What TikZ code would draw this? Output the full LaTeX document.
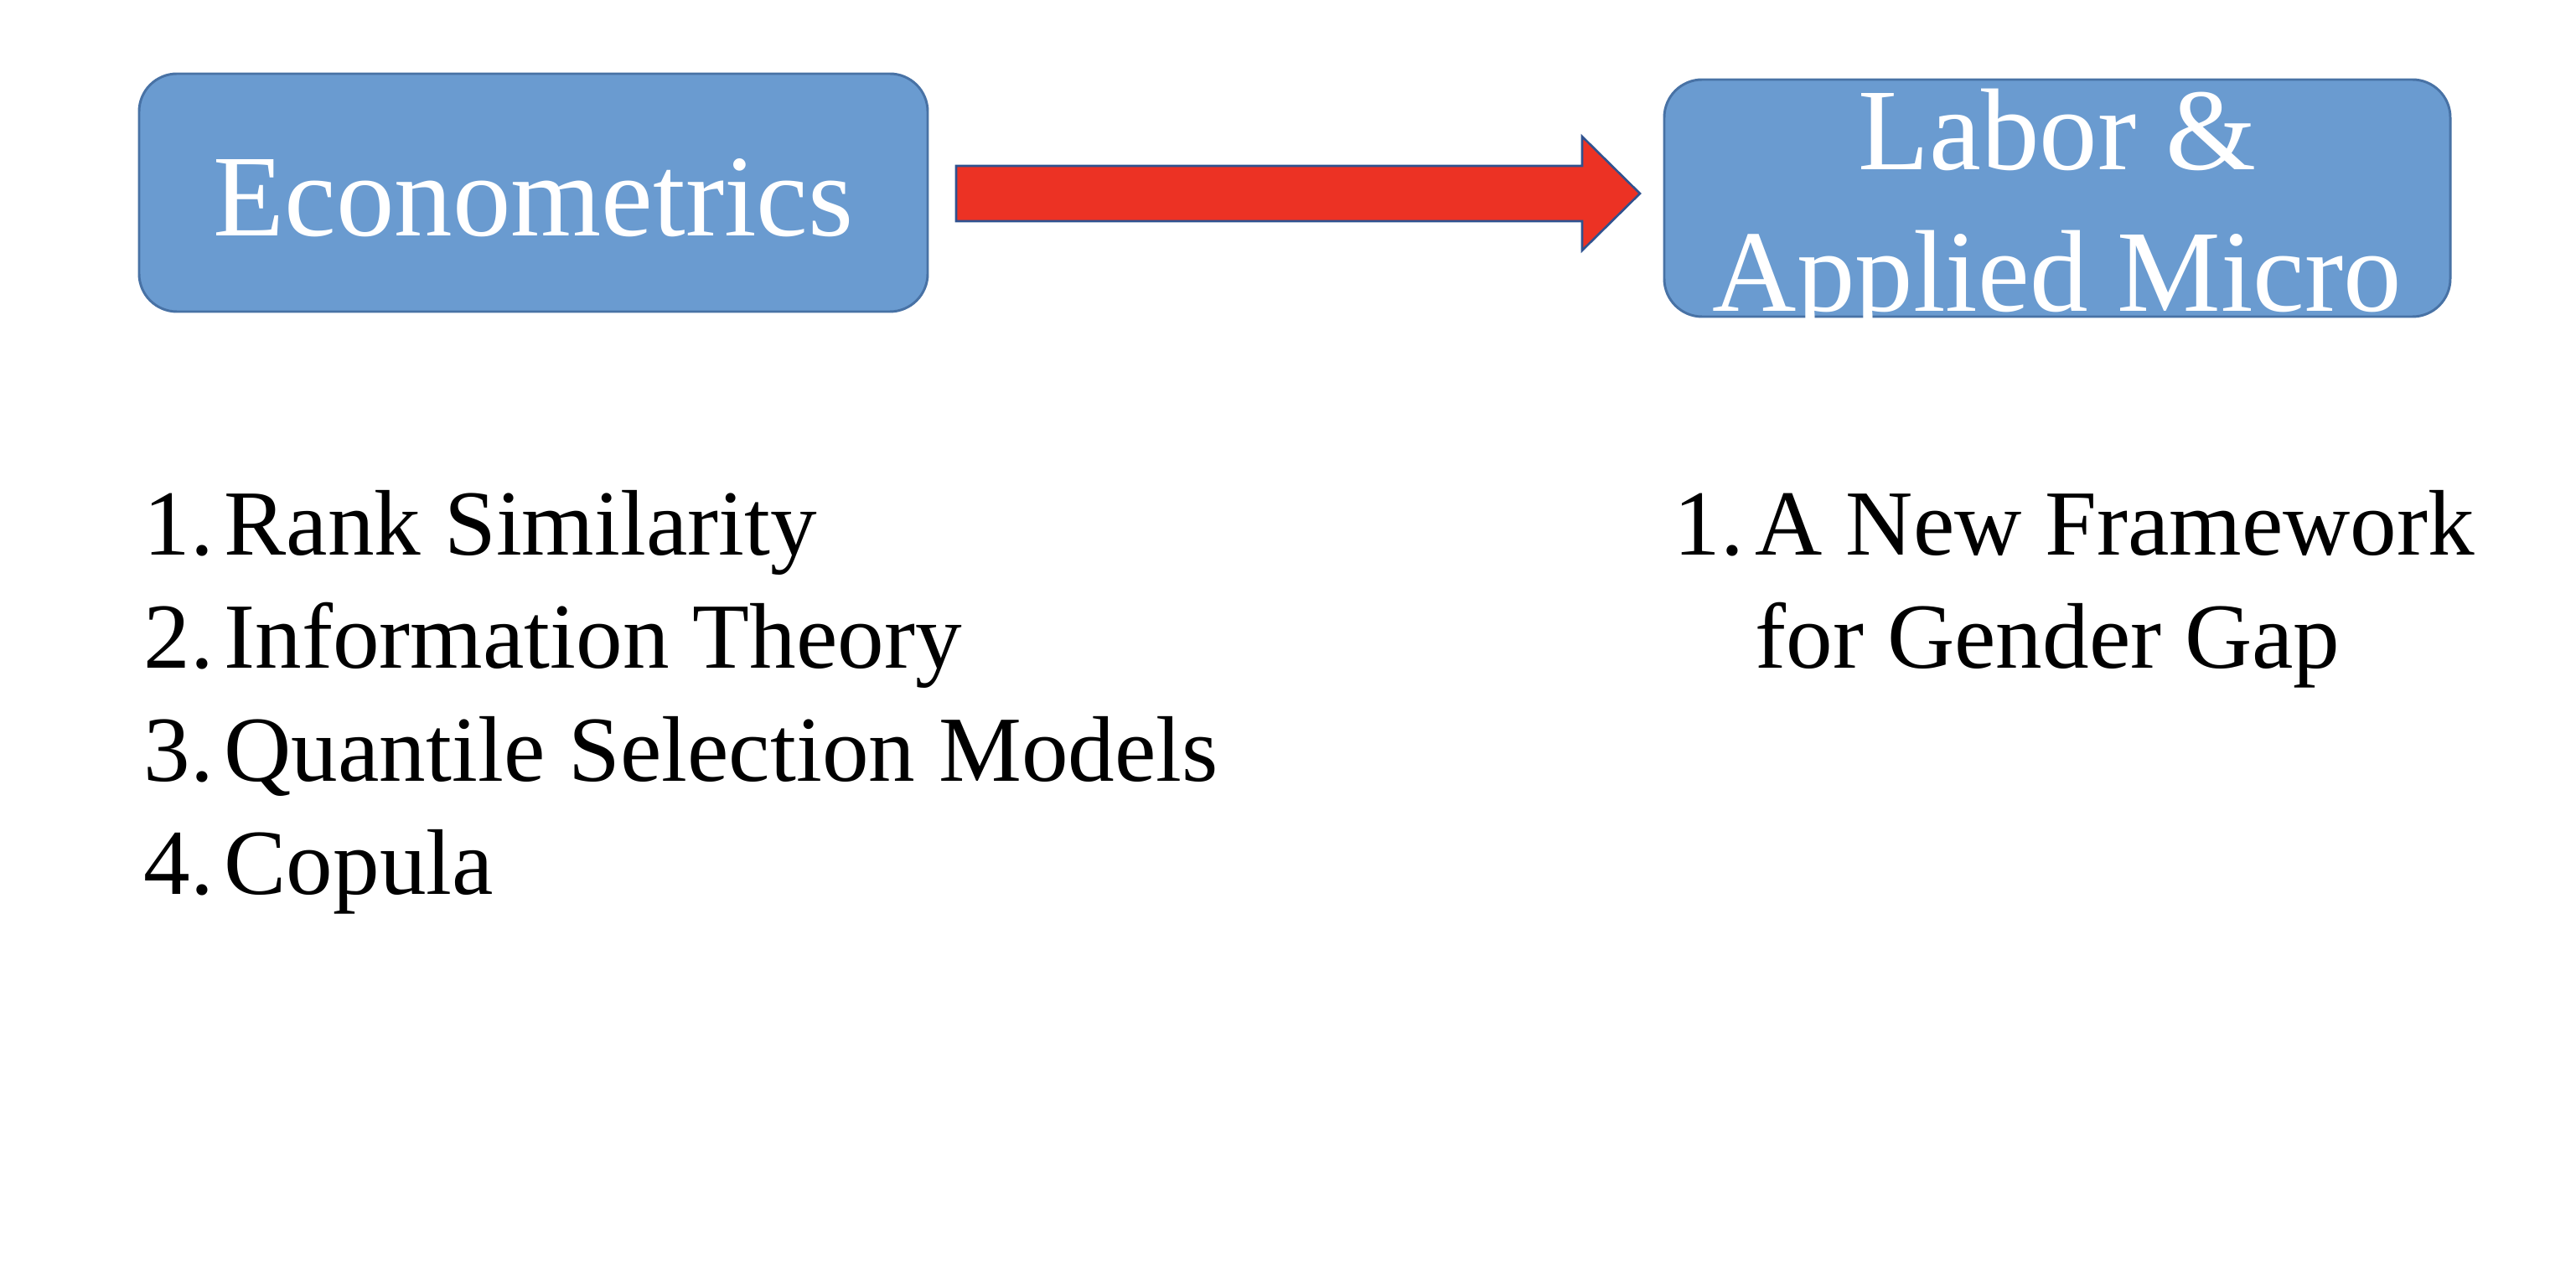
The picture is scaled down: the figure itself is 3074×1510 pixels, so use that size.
\documentclass[tikz,border=0pt]{standalone}
\usepackage{fontspec}
\setmainfont{Liberation Serif}
\definecolor{boxfill}{RGB}{106,155,208}
\definecolor{boxline}{RGB}{72,114,165}
\definecolor{arrowfill}{RGB}{236,50,36}
\definecolor{arrowline}{RGB}{47,82,143}
\tikzset{
  topicbox/.style={draw=boxline, line width=0.85pt, fill=boxfill,
    rounded corners=13pt, inner sep=0pt},
  boxtext/.style={text=white, inner sep=0pt, anchor=base,
    font=\fontsize{40}{48.6}\selectfont},
  listnum/.style={inner sep=0pt, anchor=base west,
    font=\fontsize{32}{38.85}\selectfont},
  listitem/.style={inner sep=0pt, anchor=base west,
    font=\fontsize{32}{38.85}\selectfont},
  blockarrow/.style={draw=arrowline, line width=0.75pt, fill=arrowfill,
    line join=miter}
}
\begin{document}
% one unit = one pixel of a 3074 x 1510 canvas, y pointing down
\begin{tikzpicture}[x=0.28777pt, y=-0.28777pt]
  \useasboundingbox (0,0) rectangle (3074,1510);

  % the two field boxes
  \node[topicbox, minimum width=941*0.28777pt, minimum height=284*0.28777pt]
    (econ) at (636.5,230) {};
  \node[topicbox, minimum width=938*0.28777pt, minimum height=283*0.28777pt]
    (labor) at (2455,236.5) {};

  \node[boxtext] (econtext) at (636.5,282) {Econometrics};

  % the second label runs past the lower edge and is cut off there
  \begin{scope}
    \clip[rounded corners=13pt] (labor.north west) rectangle ([yshift=-1pt]labor.south east);
    \node[boxtext] (labortop) at (2455,203) {Labor \&};
    \node[boxtext] (laborbottom) at (2455,372) {Applied Micro};
  \end{scope}

  % block arrow between the boxes
  \coordinate (arrowtail) at (1141,231);
  \coordinate (arrowtip) at (1957,231);
  \draw[blockarrow] (arrowtail) ++(0,-33) -- ++(747,0) -- ++(0,-35)
    -- (arrowtip) -- ++(-69,68) -- ++(0,-35) -- ++(-747,0) -- cycle;

  % econometrics topics
  \node[listnum] (n1) at (171,663) {1.};
  \node[listitem] (t1) at (267,663) {Rank Similarity};
  \node[listnum] (n2) at (171,798) {2.};
  \node[listitem] (t2) at (267,798) {Information Theory};
  \node[listnum] (n3) at (171,933) {3.};
  \node[listitem] (t3) at (267,933) {Quantile Selection Models};
  \node[listnum] (n4) at (171,1068) {4.};
  \node[listitem] (t4) at (267,1068) {Copula};

  % labor topics
  \node[listnum] (m1) at (1997,663) {1.};
  \node[listitem] (u1) at (2094,663) {A New Framework};
  \node[listitem] (u2) at (2094,798) {for Gender Gap};
\end{tikzpicture}
\end{document}
